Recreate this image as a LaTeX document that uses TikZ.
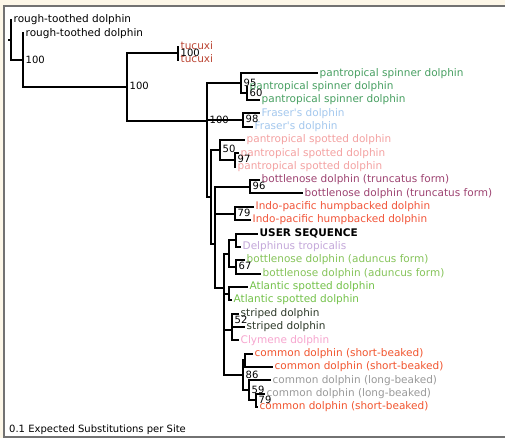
\documentclass[tikz,border=0pt]{standalone}
\usepackage{fontspec}
\newfontfamily\dejavu{DejaVu Sans}

\definecolor{creme}{HTML}{FDF7E8}
\definecolor{cadre}{HTML}{727272}
\definecolor{ctuc}{HTML}{BC4634}
\definecolor{cspin}{HTML}{48A062}
\definecolor{cfras}{HTML}{A4C8EE}
\definecolor{cspot}{HTML}{F4A2A2}
\definecolor{ctrunc}{HTML}{9E4472}
\definecolor{cindo}{HTML}{F2553A}
\definecolor{cdelph}{HTML}{C4A8DA}
\definecolor{cadun}{HTML}{86C45A}
\definecolor{catl}{HTML}{74C24A}
\definecolor{cstrip}{HTML}{2E3A2A}
\definecolor{cclym}{HTML}{F7A6CF}
\definecolor{cshort}{HTML}{F2552F}
\definecolor{clong}{HTML}{9A9A9A}

\begin{document}
\begin{tikzpicture}[x=1pt,y=-1pt,
  branch/.style={line width=2pt},
  leaf/.style={anchor=west,inner sep=1.5pt,text height=7.5pt,text depth=2pt,
    font=\dejavu\fontsize{10.5}{12}\selectfont},
  boot/.style={anchor=west,inner sep=1pt,xshift=1.5pt,text height=7.5pt,text depth=2pt,
    font=\dejavu\fontsize{10}{12}\selectfont}]

\useasboundingbox (0,0) rectangle (505,438);

% cadre
\fill[creme] (0,0) rectangle (505,438);
\fill[white] (4,5.7) rectangle (505,436.5);
\draw[cadre,line width=2pt] (3,5.7) -- (505,5.7);
\draw[cadre,line width=1.4pt] (4,5.7) -- (4,436.5);
\draw[cadre,line width=2pt] (3,436.5) -- (505,436.5);

% noeuds internes
\coordinate (root) at (8,40.15);
\coordinate (R) at (11,40.15);
\coordinate (A) at (23,60.3);
\coordinate (B) at (127,87.2);
\coordinate (tuc) at (178,53.35);
\coordinate (C) at (207,121.0);
\coordinate (spin) at (241,83.4);
\coordinate (spin2) at (247,93.4);
\coordinate (E) at (207,158.65);
\coordinate (fras) at (243,120.1);
\coordinate (D) at (211,197.2);
\coordinate (spot) at (220,150.1);
\coordinate (spot2) at (235,160.15);
\coordinate (G) at (215,244.3);
\coordinate (G2) at (215,200.2);
\coordinate (trunc) at (250,186.85);
\coordinate (ipac) at (235,213.5);
\coordinate (Q1) at (224,288.4);
\coordinate (V) at (229,253.55);
\coordinate (user) at (236,240.2);
\coordinate (adun) at (236,266.9);
\coordinate (Q2) at (224,323.2);
\coordinate (atl) at (229,293.6);
\coordinate (Q3) at (224,352.85);
\coordinate (K) at (232,330.3);
\coordinate (strip) at (232,320.3);
\coordinate (comm) at (243,375.4);
\coordinate (cshort) at (245,360.35);
\coordinate (clong) at (249,390.4);
\coordinate (clong2) at (256,400.35);

% feuilles
\foreach \i/\xt/\col/\txt in {
  1/12/black/rough-toothed dolphin,
  2/24/black/rough-toothed dolphin,
  3/179/ctuc/tucuxi,
  4/179/ctuc/tucuxi,
  5/318/cspin/pantropical spinner dolphin,
  6/248/cspin/pantropical spinner dolphin,
  7/260/cspin/pantropical spinner dolphin,
  8/260/cfras/Fraser's dolphin,
  9/253/cfras/Fraser's dolphin,
  10/245/cspot/pantropical spotted dolphin,
  11/239/cspot/pantropical spotted dolphin,
  12/236/cspot/pantropical spotted dolphin,
  13/260/ctrunc/bottlenose dolphin (truncatus form),
  14/303/ctrunc/bottlenose dolphin (truncatus form),
  15/254/cindo/Indo-pacific humpbacked dolphin,
  16/251/cindo/Indo-pacific humpbacked dolphin,
  17/258/black/{\bfseries USER SEQUENCE},
  18/241/cdelph/Delphinus tropicalis,
  19/245/cadun/bottlenose dolphin (aduncus form),
  20/261/cadun/bottlenose dolphin (aduncus form),
  21/248/catl/Atlantic spotted dolphin,
  22/232/catl/Atlantic spotted dolphin,
  23/239/cstrip/striped dolphin,
  24/245/cstrip/striped dolphin,
  25/239/cclym/Clymene dolphin,
  26/253/cshort/common dolphin (short-beaked),
  27/273/cshort/common dolphin (short-beaked),
  28/271/clong/common dolphin (long-beaked),
  29/265/clong/common dolphin (long-beaked),
  30/258/cshort/common dolphin (short-beaked)}
  \node[leaf,text=\col] (l\i) at (\xt,{20+13.345*(\i-1)}) {\txt};

% branches
\draw[branch] (root) -- (R);
\foreach \p/\c in {R/l1,R/A,A/l2,A/B,B/tuc,B/C,tuc/l3,tuc/l4,
    C/spin,C/E,spin/l5,spin/spin2,spin2/l6,spin2/l7,
    E/fras,E/D,fras/l8,fras/l9,D/spot,D/G,spot/l10,spot/spot2,spot2/l11,spot2/l12,
    G/G2,G/Q1,G2/trunc,G2/ipac,trunc/l13,trunc/l14,ipac/l15,ipac/l16,
    Q1/V,Q1/Q2,V/user,V/adun,user/l17,user/l18,adun/l19,adun/l20,
    Q2/atl,Q2/Q3,atl/l21,atl/l22,Q3/K,Q3/comm,K/strip,K/l25,strip/l23,strip/l24,
    comm/cshort,comm/clong,cshort/l26,cshort/l27,clong/l28,clong/clong2,clong2/l29,clong2/l30}
  \draw[branch] (\p) |- (\c);

% valeurs de bootstrap
\foreach \n/\v in {A/100,B/100,tuc/100,C/100,spin/95,spin2/60,fras/98,spot/50,spot2/97,
    trunc/96,ipac/79,adun/67,strip/52,comm/86,clong/59,clong2/79}
  \node[boot] (b\n) at (\n) {\v};

\node[anchor=west,inner sep=1pt,font=\dejavu\fontsize{10}{12}\selectfont] (echelle) at (8,429.5)
  {0.1 Expected Substitutions per Site};

\end{tikzpicture}
\end{document}
